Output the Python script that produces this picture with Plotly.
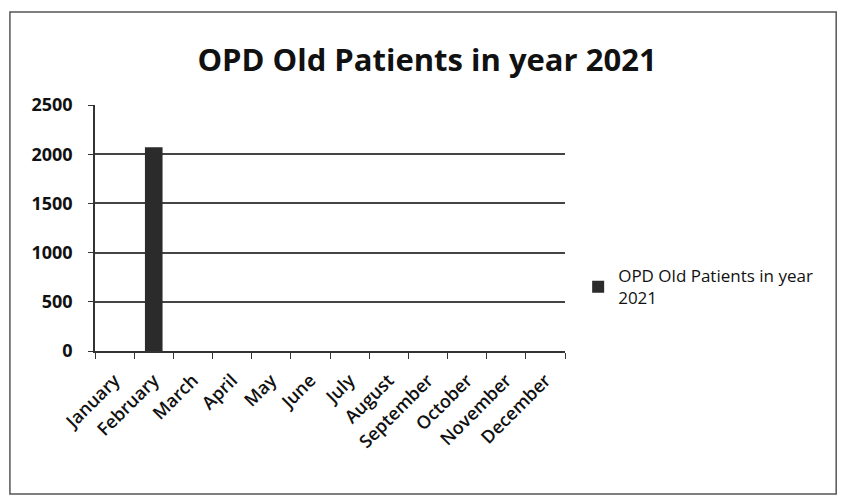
import plotly.graph_objects as go

months = ["January", "February", "March", "April", "May", "June", "July",
          "August", "September", "October", "November", "December"]
patients = [0, 2070, 0, 0, 0, 0, 0, 0, 0, 0, 0, 0]
series_name = "OPD Old Patients in year<br>2021"
title_text = "OPD Old Patients in year 2021"
y_ticks = [0, 500, 1000, 1500, 2000, 2500]

fig = go.Figure()
fig.add_trace(go.Bar(
    x=months, y=patients, name=series_name, width=0.45,
    marker=dict(color="#2b2b2b", line=dict(width=0)),
    showlegend=True,
))

fig.update_layout(
    width=838, height=491,
    margin=dict(l=87, r=281, t=97, b=148),
    paper_bgcolor="white", plot_bgcolor="white",
    title=dict(text="<b>" + title_text + "</b>", x=0.5, xanchor="center",
               y=0.894, yanchor="middle",
               font=dict(family="Open Sans", size=31, color="#111111")),
    font=dict(family="Open Sans", color="#111111"),
    xaxis=dict(
        type="category", tickangle=-45, tickson="boundaries",
        ticks="outside", ticklen=6, tickcolor="#333333",
        showline=True, linecolor="#333333", linewidth=1.5,
        showgrid=False, ticklabelstandoff=10,
        tickfont=dict(family="Open Sans", size=18, color="#111111", weight=600),
    ),
    yaxis=dict(
        range=[0, 2500], tickvals=y_ticks, ticks="outside", ticklen=5,
        tickcolor="#333333", showline=True, linecolor="#333333", linewidth=1.5,
        showgrid=True, gridcolor="#444444", gridwidth=1.5, zeroline=False,
        ticklabelstandoff=12,
        tickfont=dict(family="Open Sans", size=18, color="#111111", weight="bold"),
    ),
    legend=dict(x=1.028, y=0.26, xanchor="left", yanchor="middle",
                font=dict(family="Open Sans", size=17, color="#111111"),
                bgcolor="rgba(0,0,0,0)", itemwidth=30),
)

fig.add_shape(type="rect", xref="paper", yref="paper",
              x0=-0.181, x1=1.577, y0=-0.581, y1=1.378,
              line=dict(color="#555555", width=1.5))

fig.write_html("out.html")
